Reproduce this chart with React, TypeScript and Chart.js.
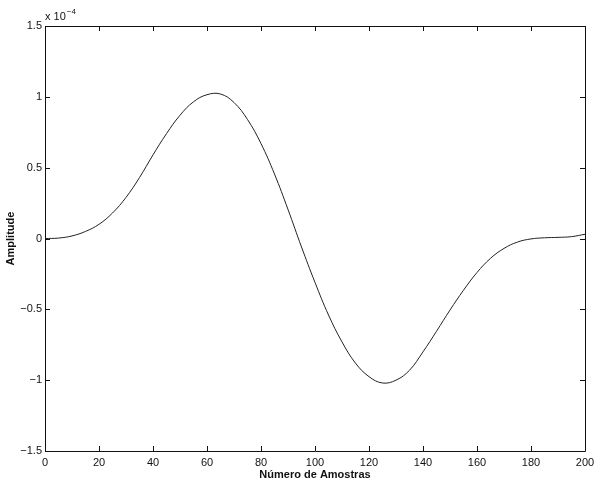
import React, { useEffect, useRef } from "react";
import { Chart, registerables } from "chart.js";

Chart.register(...registerables);

const samples = [0, 5, 10, 15, 20, 25, 30, 35, 40, 45, 50, 55, 60, 65, 70, 75, 80, 85, 90, 95, 100, 105, 110, 115, 120, 125, 130, 135, 140, 145, 150, 155, 160, 165, 170, 175, 180, 185, 190, 195, 200];
const amplitude = [0, 0.003, 0.018, 0.05, 0.1, 0.18, 0.29, 0.43, 0.59, 0.74, 0.87, 0.965, 1.015, 1.02, 0.96, 0.84, 0.67, 0.455, 0.205, -0.06, -0.31, -0.54, -0.73, -0.88, -0.975, -1.02, -1.0, -0.93, -0.8, -0.655, -0.505, -0.365, -0.24, -0.14, -0.07, -0.025, -0.003, 0.005, 0.008, 0.013, 0.03];
const xTicks = [0, 20, 40, 60, 80, 100, 120, 140, 160, 180, 200];
const yTicks = [-1.5, -1, -0.5, 0, 0.5, 1, 1.5];
const xTitle = "Número de Amostras";
const yTitle = "Amplitude";
const exponentBase = "x 10";
const exponentPower = "\u22124";

const fmt = (v: number) => (v < 0 ? "\u2212" + String(Math.abs(v)) : String(v));

const boxPlugin = {
  id: "matlabBox",
  afterDraw(chart: any) {
    const { ctx, chartArea } = chart;
    const { left, right, top, bottom } = chartArea;
    const xs = chart.scales.x;
    const ys = chart.scales.y;
    const tl = 5;
    ctx.save();
    ctx.strokeStyle = "#111";
    ctx.lineWidth = 1;
    ctx.beginPath();
    ctx.rect(Math.round(left) + 0.5, Math.round(top) + 0.5, Math.round(right - left), Math.round(bottom - top));
    ctx.stroke();
    ctx.beginPath();
    xTicks.forEach((t) => {
      const px = Math.round(xs.getPixelForValue(t)) + 0.5;
      ctx.moveTo(px, bottom);
      ctx.lineTo(px, bottom - tl);
      ctx.moveTo(px, top);
      ctx.lineTo(px, top + tl);
    });
    yTicks.forEach((t) => {
      const py = Math.round(ys.getPixelForValue(t)) + 0.5;
      ctx.moveTo(left, py);
      ctx.lineTo(left + tl, py);
      ctx.moveTo(right, py);
      ctx.lineTo(right - tl, py);
    });
    ctx.stroke();
    ctx.fillStyle = "#111";
    ctx.textBaseline = "alphabetic";
    ctx.textAlign = "left";
    ctx.font = "11px 'Liberation Sans', Arial, sans-serif";
    ctx.fillText(exponentBase, left, top - 6);
    const w = ctx.measureText(exponentBase).width;
    ctx.font = "8px 'Liberation Sans', Arial, sans-serif";
    ctx.fillText(exponentPower, left + w + 1, top - 12);
    ctx.restore();
  },
};

export default function App() {
  const ref = useRef<HTMLCanvasElement | null>(null);
  useEffect(() => {
    if (!ref.current) return;
    const chart = new Chart(ref.current, {
      type: "line",
      data: {
        datasets: [
          {
            data: samples.map((x, i) => ({ x, y: amplitude[i] })),
            borderColor: "#222",
            borderWidth: 1,
            pointRadius: 0,
            tension: 0.4,
            fill: false,
          },
        ],
      },
      options: {
        animation: false,
        responsive: true,
        maintainAspectRatio: false,
        events: [],
        layout: { padding: { top: 26, right: 15, left: 0, bottom: 0 } },
        plugins: { legend: { display: false }, tooltip: { enabled: false } },
        scales: {
          x: {
            type: "linear",
            min: 0,
            max: 200,
            border: { display: false },
            grid: { display: false, drawTicks: false },
            afterBuildTicks: (s: any) => {
              s.ticks = xTicks.map((v) => ({ value: v }));
            },
            afterFit: (s: any) => {
              s.height = 31;
            },
            ticks: {
              padding: 5,
              color: "#111",
              maxRotation: 0,
              autoSkip: false,
              font: { family: "'Liberation Sans', Arial, sans-serif", size: 11 },
              callback: (v: any) => fmt(Number(v)),
            },
            title: {
              display: true,
              text: xTitle,
              color: "#111",
              padding: { top: 0, bottom: 0 },
              font: { family: "'Liberation Sans', Arial, sans-serif", size: 11, weight: "bold" },
            },
          },
          y: {
            type: "linear",
            min: -1.5,
            max: 1.5,
            border: { display: false },
            grid: { display: false, drawTicks: false },
            afterBuildTicks: (s: any) => {
              s.ticks = yTicks.map((v) => ({ value: v }));
            },
            afterFit: (s: any) => {
              s.width = 45;
            },
            ticks: {
              padding: 3,
              color: "#111",
              autoSkip: false,
              font: { family: "'Liberation Sans', Arial, sans-serif", size: 11 },
              callback: (v: any) => fmt(Number(v)),
            },
            title: {
              display: true,
              text: yTitle,
              color: "#111",
              padding: { top: 4, bottom: 0 },
              font: { family: "'Liberation Sans', Arial, sans-serif", size: 11, weight: "bold" },
            },
          },
        },
      },
      plugins: [boxPlugin],
    } as any);
    return () => chart.destroy();
  }, []);
  return (
    <div style={{ position: "absolute", left: 0, top: 0, width: 600, height: 482, background: "#fff" }}>
      <canvas ref={ref} />
    </div>
  );
}
